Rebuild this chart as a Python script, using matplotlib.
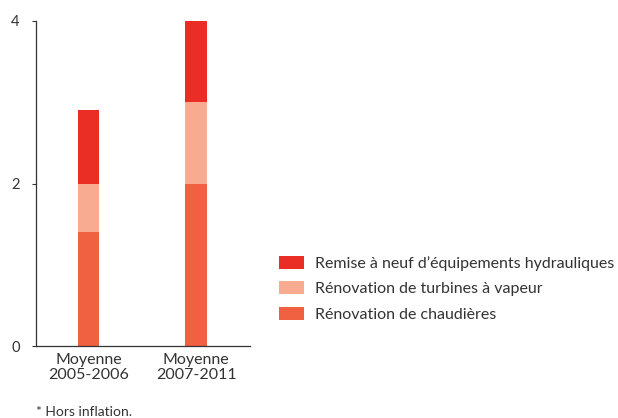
import numpy as np
import matplotlib
matplotlib.use('Agg')
import matplotlib.pyplot as plt
from matplotlib.patches import Patch

plt.rcParams['font.family'] = ['Lato', 'DejaVu Sans']

periods = ['Moyenne\n2005-2006', 'Moyenne\n2007-2011']
chaudieres = [1.4, 2.0]
turbines = [0.6, 1.0]
hydrauliques = [0.9, 1.0]

series = ['Rénovation de chaudières',
          'Rénovation de turbines à vapeur',
          "Remise à neuf d’équipements hydrauliques"]
COLORS = ['#F06142', '#F8AB90', '#EA2E25']

fig = plt.figure(figsize=(6.18, 4.18), dpi=100)
ax = fig.add_axes([0.0583, 0.1722, 0.3463, 0.7776])

x = np.arange(len(periods))
bottom = np.zeros(len(periods))
for vals, color in zip([chaudieres, turbines, hydrauliques], COLORS):
    ax.bar(x, vals, width=0.2, bottom=bottom, color=color, linewidth=0)
    bottom += np.array(vals)

ax.set_xlim(-0.488, 1.5)
ax.set_ylim(0, 4)
ax.set_yticks([0, 2, 4])
ax.set_xticks(x)
ax.set_xticklabels(periods, fontsize=11.5, color='#333333', linespacing=1.05)
ax.tick_params(axis='x', length=0, pad=5)
ax.tick_params(axis='y', length=3, width=0.8, pad=15, labelsize=10.5,
               colors='#333333')
for lbl in ax.get_yticklabels():
    lbl.set_horizontalalignment('left')
ax.spines[['top', 'right']].set_visible(False)
ax.spines[['left', 'bottom']].set_color('#333333')
ax.spines[['left', 'bottom']].set_linewidth(0.9)

handles = [Patch(facecolor=c, edgecolor='none') for c in COLORS[::-1]]
fig.legend(handles, series[::-1], loc='upper left',
           bbox_to_anchor=(0.428, 0.422), frameon=False, fontsize=11.5,
           handlelength=1.6, handleheight=0.85, handletextpad=0.65,
           labelspacing=0.66, labelcolor='#333333')

fig.text(0.058, 0.0, '* Hors inflation.', fontsize=10, color='#333333',
         va='bottom')

plt.savefig('out.png', dpi=100, facecolor='white')
plt.close()
